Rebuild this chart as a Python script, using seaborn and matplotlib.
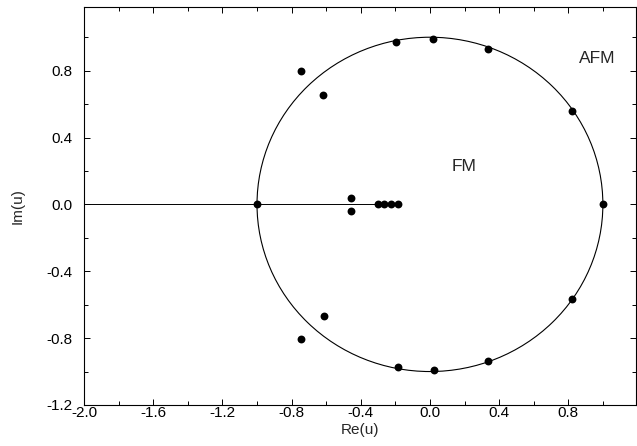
import matplotlib
matplotlib.use("Agg")
import matplotlib.pyplot as plt
from matplotlib.patches import Circle
from matplotlib.ticker import MultipleLocator
import seaborn as sns
import pandas as pd

# ---- data ----
zero_re = [1.0, 0.819, 0.333, 0.016, -0.195, -0.616, -0.745, -1.0,
           -0.455, -0.455, -0.302, -0.266, -0.225, -0.183,
           0.82, 0.337, 0.021, -0.187, -0.612, -0.745]
zero_im = [0.0, 0.558, 0.93, 0.989, 0.971, 0.655, 0.80, 0.0,
           0.036, -0.040, 0.0, 0.0, 0.0, 0.0,
           -0.565, -0.936, -0.993, -0.975, -0.667, -0.808]
cut_re = [-2.0, -0.183]
cut_im = [0.0, 0.0]
circle_radius = 1.0
region_labels = ["AFM", "FM"]
region_x = [0.965, 0.20]
region_y = [0.87, 0.225]
x_ticks = [-2.0, -1.6, -1.2, -0.8, -0.4, 0.0, 0.4, 0.8]
y_ticks = [-1.2, -0.8, -0.4, 0.0, 0.4, 0.8]

sns.set_theme(style="ticks")
plt.rcParams['font.family'] = ['Liberation Sans', 'DejaVu Sans']

fig = plt.figure(figsize=(6.37, 4.46), dpi=100)
ax = fig.add_axes([0.132, 0.092, 0.866, 0.892])

zeros = pd.DataFrame({"re": zero_re, "im": zero_im})
cut = pd.DataFrame({"re": cut_re, "im": cut_im})

sns.lineplot(data=cut, x="re", y="im", ax=ax, color="black", linewidth=0.7,
             sort=False, estimator=None)
ax.add_patch(Circle((0, 0), circle_radius, fill=False, edgecolor="black", linewidth=0.8))
sns.scatterplot(data=zeros, x="re", y="im", ax=ax, color="black", s=32,
                edgecolor="black", linewidth=0, zorder=5)

for lab, xx, yy in zip(region_labels, region_x, region_y):
    ax.text(xx, yy, lab, fontsize=12.5, ha="center", va="center")

ax.set_xlim(-2.0, 1.19)
ax.set_ylim(-1.2, 1.18)
ax.set_xticks(x_ticks)
ax.set_yticks(y_ticks)
ax.set_xticklabels([f"{v:.1f}" for v in x_ticks])
ax.set_yticklabels([f"{v:.1f}" for v in y_ticks])
ax.xaxis.set_minor_locator(MultipleLocator(0.2))
ax.yaxis.set_minor_locator(MultipleLocator(0.2))
ax.tick_params(which="both", direction="in", top=True, right=True,
               labelsize=11, colors="black", width=0.7)
ax.tick_params(which="major", length=4)
ax.tick_params(which="minor", length=3)
ax.tick_params(axis="x", which="major", pad=1)
ax.tick_params(axis="y", which="major", pad=8)
for sp in ax.spines.values():
    sp.set_linewidth(0.8)
    sp.set_color("black")
ax.set_xlabel("Re(u)", fontsize=11, labelpad=2)
ax.set_ylabel("Im(u)", fontsize=11, labelpad=16)

fig.savefig("out.png", dpi=100)
